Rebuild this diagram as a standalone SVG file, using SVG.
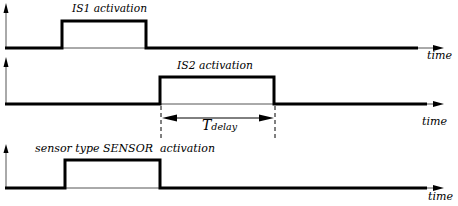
<svg xmlns="http://www.w3.org/2000/svg" width="458" height="206" viewBox="0 0 458 206">
<style>
.axis{stroke:#555;stroke-width:1;fill:none}
.sig{stroke:#000;stroke-width:3;fill:none;stroke-linejoin:miter;stroke-linecap:butt}
.ah{fill:#000}
.lbl{font-family:"DejaVu Serif","Liberation Serif",serif;font-style:italic;font-size:11px;fill:#000}
.dash{stroke:#000;stroke-width:1;stroke-dasharray:4 3;fill:none}
</style>
<rect width="458" height="206" fill="#fff"/>
<g id="panel1">
<line class="axis" x1="6" y1="48" x2="6" y2="10"/>
<polygon class="ah" points="6,3 3.5,13 8.5,13"/>
<line class="axis" x1="5" y1="48" x2="436" y2="48"/>
<polygon class="ah" points="444,48 433,45 433,51"/>
<path class="sig" d="M5,48 H62 V21 H146 V48 H418"/>
<text class="lbl" x="72" y="12" textLength="75" lengthAdjust="spacingAndGlyphs">IS1 activation</text>
<text class="lbl" x="427" y="59" textLength="25" lengthAdjust="spacingAndGlyphs">time</text>
</g>
<g id="panel2">
<line class="axis" x1="6" y1="104" x2="6" y2="64"/>
<polygon class="ah" points="6,57 3.5,67 8.5,67"/>
<line class="axis" x1="5" y1="104" x2="436" y2="104"/>
<polygon class="ah" points="444,104 433,101 433,107"/>
<path class="sig" d="M5,104 H160 V77 H274 V104 H427"/>
<text class="lbl" x="177" y="69" textLength="76" lengthAdjust="spacingAndGlyphs">IS2 activation</text>
<text class="lbl" x="422" y="125" textLength="25" lengthAdjust="spacingAndGlyphs">time</text>
</g>
<g id="delay">
<line class="dash" x1="161" y1="106" x2="161" y2="139"/>
<line class="dash" x1="275" y1="106" x2="275" y2="139"/>
<line x1="170" y1="118" x2="266" y2="118" stroke="#000" stroke-width="1"/>
<polygon class="ah" points="162,118 177,114.5 177,121.5"/>
<polygon class="ah" points="274,118 259,114.5 259,121.5"/>
<text class="lbl" x="202" y="130" style="font-size:14px">T<tspan style="font-size:9.5px">delay</tspan></text>
</g>
<g id="panel3">
<line class="axis" x1="6" y1="188" x2="6" y2="150"/>
<polygon class="ah" points="6,144 3.5,153 8.5,153"/>
<line class="axis" x1="5" y1="188" x2="436" y2="188"/>
<polygon class="ah" points="444,188 433,185 433,191"/>
<path class="sig" d="M5,188 H65 V160 H160 V188 H427"/>
<text class="lbl" x="35" y="152" textLength="180" lengthAdjust="spacingAndGlyphs" xml:space="preserve">sensor type SENSOR  activation</text>
<text class="lbl" x="428" y="200" textLength="25" lengthAdjust="spacingAndGlyphs">time</text>
</g>
</svg>
